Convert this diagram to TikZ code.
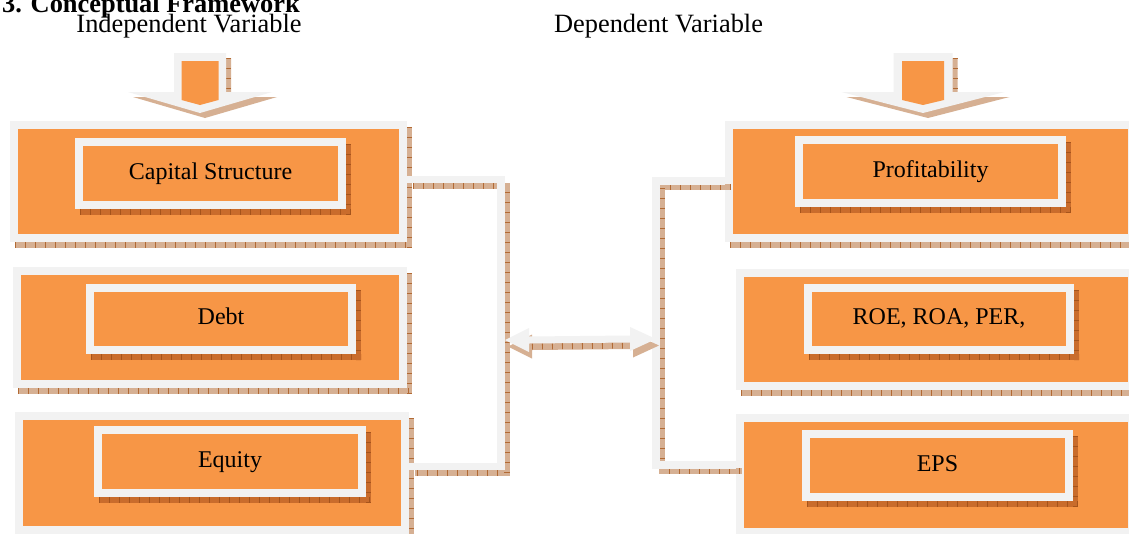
\documentclass[tikz,border=0pt]{standalone}
\usepackage{fontspec}
\setmainfont{Liberation Serif}
\usetikzlibrary{calc}
\definecolor{orng}{HTML}{F79646}
\definecolor{bgray}{HTML}{F2F2F2}
\definecolor{tanc}{HTML}{D6B093}
\definecolor{tantick}{HTML}{B26A34}
\definecolor{dshade}{HTML}{C96C2C}
\definecolor{dtick}{HTML}{A5541C}
\newcommand\shadowpair[6]{%
  \fill[#5] (#1+5,#2+6) rectangle (#3+5,#4+6);
  \draw[#6, line width=6pt, dash pattern=on 0.8pt off 9.2pt] (#1+5,#4+3) -- (#3+5,#4+3);
  \draw[#6, line width=5pt, dash pattern=on 0.8pt off 9.2pt] (#3+2.5,#2+6) -- (#3+2.5,#4+6);
}
\newcommand\outerbox[5]{%
  \shadowpair{#2}{#3}{#4}{#5}{tanc}{tantick}
  \node[obox, minimum width={#4-#2-8}, minimum height={#5-#3-8}] (#1) at ({(#2+#4)/2},{(#3+#5)/2}) {};
}
\newcommand\innerbox[6]{%
  \shadowpair{#2}{#3}{#4}{#5}{dshade}{dtick}
  \node[ibox, minimum width={#4-#2-8}, minimum height={#5-#3-8}] (#1) at ({(#2+#4)/2},{(#3+#5)/2}) {#6};
}
% block arrow down: cx, shaft half, head half, orange half
\newcommand\blockdown[4]{%
  \fill[tanc, transform canvas={shift={(5pt,-5pt)}}] (#1-#2,53) -- (#1+#2,53) -- (#1+#2,92) -- (#1+#3,92) -- (#1,113) -- (#1-#3,92) -- (#1-#2,92) -- cycle;
  \draw[tantick, line width=5pt, dash pattern=on 0.8pt off 9.2pt] (#1+#2+2.5,58) -- (#1+#2+2.5,92);
  \fill[bgray] (#1-#2,53) -- (#1+#2,53) -- (#1+#2,92) -- (#1+#3,92) -- (#1,113) -- (#1-#3,92) -- (#1-#2,92) -- cycle;
  \fill[orng] (#1-#4,61) -- (#1+#4,61) -- (#1+#4,100) -- (#1,105) -- (#1-#4,100) -- cycle;
}
\newcommand\dblpath{(la) -- ($(la)+(24,-12)$) -- ($(la)+(24,-3.5)$) -- ($(ra)+(-26,-3.5)$) -- ($(ra)+(-26,-12)$) -- (ra) -- ($(ra)+(-26,12)$) -- ($(ra)+(-26,3.5)$) -- ($(la)+(24,3.5)$) -- ($(la)+(24,12)$) -- cycle}
\tikzset{
  obox/.style={draw=bgray, line width=8pt, fill=orng, inner sep=0pt},
  ibox/.style={draw=bgray, line width=8pt, fill=orng, inner sep=0pt,
    font=\fontsize{24}{28}\selectfont, text height=16pt, text depth=5pt},
  conn/.style={draw=bgray, line width=7.5pt},
  connshadow/.style={draw=tanc, line width=6pt, transform canvas={shift={(6pt,-6pt)}},
    postaction={draw=tantick, line width=6pt, dash pattern=on 0.8pt off 9.2pt}},
  head/.style={font=\fontsize{26.4}{30}\selectfont, anchor=base, inner sep=0pt},
}
\begin{document}
\begin{tikzpicture}[x=1pt,y=-1pt]
\useasboundingbox[fill=white] (0,0) rectangle (1129,533);

% title and headings
\node[head, anchor=base east, font=\fontsize{26.4}{30}\selectfont\bfseries] (title) at (300,12) {3. Conceptual Framework};
\node[head] (iv) at (189,32) {Independent Variable};
\node[head] (dv) at (658.5,32) {Dependent Variable};

% down arrows
\blockdown{200}{26}{72}{18.5}
\blockdown{923}{29.5}{81.5}{21}

% outer boxes
\outerbox{cs}{10}{121}{407}{242}
\outerbox{debt}{13}{267}{407}{388}
\outerbox{eq}{15}{412}{409}{534}
\outerbox{prof}{725}{121}{1136}{242}
\outerbox{roe}{736}{269}{1136}{390}
\outerbox{eps}{736}{414}{1136}{536}

% inner boxes
\innerbox{cst}{75}{138}{346}{209}{Capital Structure}
\innerbox{debtt}{86}{284}{356}{354}{Debt}
\innerbox{eqt}{94}{426}{366}{497}{Equity}
\innerbox{proft}{795}{136}{1066}{207}{Profitability}
\innerbox{roet}{804}{284}{1074}{354}{ROE, ROA, PER,}
\innerbox{epst}{802}{430}{1073}{501}{EPS}

% brackets
\coordinate (lbt) at (501,179.5);
\coordinate (lbb) at (501,466.5);
\coordinate (rbt) at (656,181);
\coordinate (rbb) at (656,465);
\draw[connshadow] (cs.east |- lbt) -- (lbt) -- (lbb) -- (eq.east |- lbb);
\draw[conn] (cs.east |- lbt) -- (lbt) -- (lbb) -- (eq.east |- lbb);
\draw[connshadow] (prof.west |- rbt) -- (rbt) -- (rbb) -- (eps.west |- rbb);
\draw[conn] (prof.west |- rbt) -- (rbt) -- (rbb) -- (eps.west |- rbb);

% double arrow
\coordinate (la) at (505,340);
\coordinate (ra) at (656,339);
\fill[tanc, transform canvas={shift={(3pt,-6.5pt)}}] \dblpath;
\draw[tantick, line width=6pt, dash pattern=on 0.8pt off 9.2pt, transform canvas={shift={(3pt,-6.5pt)}}] ($(la)+(24,0)$) -- ($(ra)+(-26,0)$);
\fill[bgray] \dblpath;
\end{tikzpicture}
\end{document}
